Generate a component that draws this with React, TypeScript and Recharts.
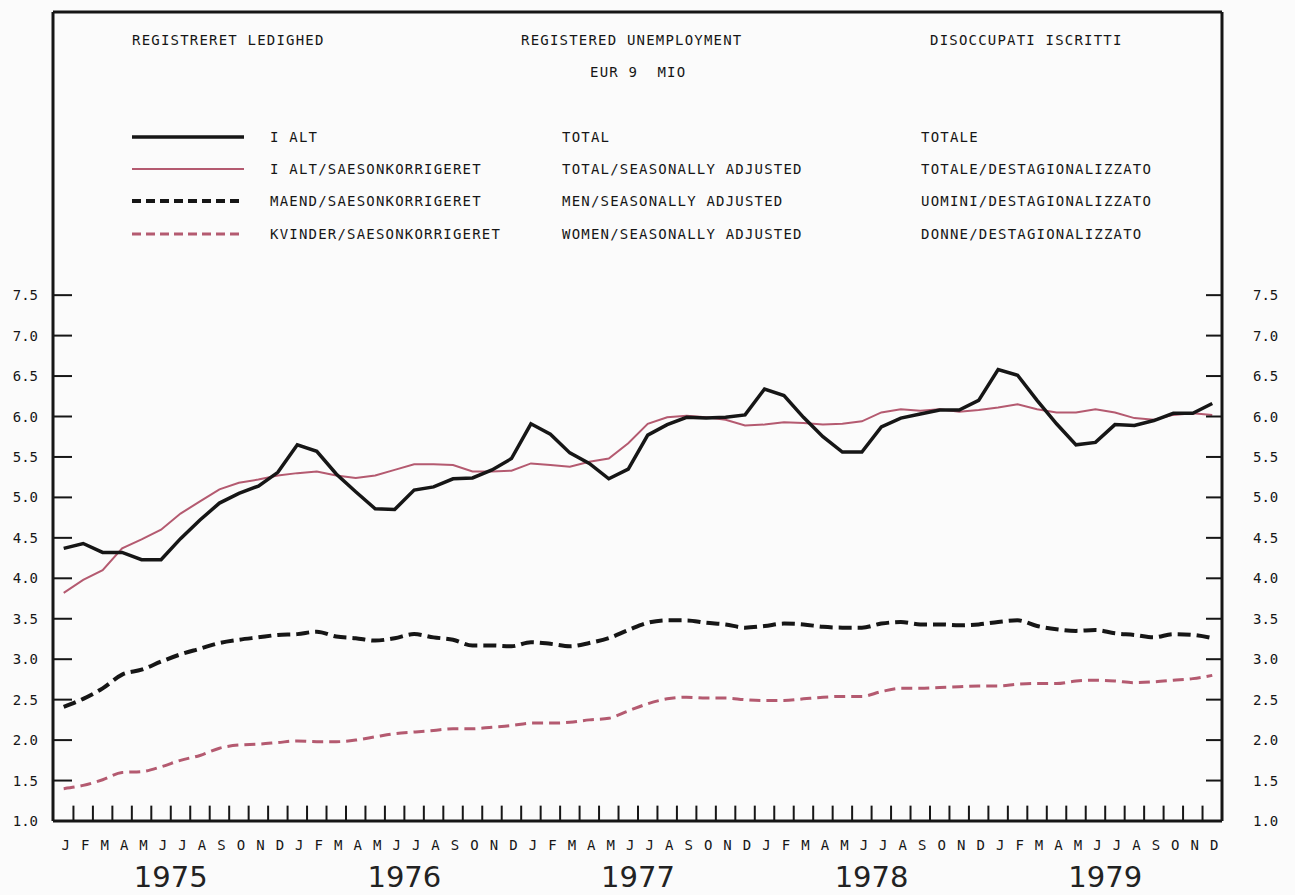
import { LineChart, Line, XAxis, YAxis, Legend, ReferenceLine } from "recharts";

const MONTHS = ["J", "F", "M", "A", "M", "J", "J", "A", "S", "O", "N", "D"];
const YEARS = ["1975", "1976", "1977", "1978", "1979"];
const Y_TICKS = [1.0, 1.5, 2.0, 2.5, 3.0, 3.5, 4.0, 4.5, 5.0, 5.5, 6.0, 6.5, 7.0, 7.5];

// I ALT / TOTAL
const iAlt = [
  4.37, 4.43, 4.32, 4.32, 4.23, 4.23, 4.49, 4.72, 4.93, 5.05, 5.14, 5.31,
  5.65, 5.57, 5.29, 5.07, 4.86, 4.85, 5.09, 5.13, 5.23, 5.24, 5.34, 5.48,
  5.91, 5.78, 5.55, 5.42, 5.23, 5.35, 5.77, 5.9, 5.99, 5.98, 5.99, 6.02,
  6.34, 6.26, 5.99, 5.75, 5.56, 5.56, 5.87, 5.98, 6.03, 6.08, 6.08, 6.2,
  6.58, 6.51, 6.2, 5.91, 5.65, 5.68, 5.9, 5.89, 5.95, 6.04, 6.04, 6.16,
];
// I ALT/SAESONKORRIGERET
const iAltSa = [
  3.82, 3.98, 4.1, 4.37, 4.48, 4.6, 4.8, 4.95, 5.1, 5.18, 5.22, 5.27,
  5.3, 5.32, 5.27, 5.24, 5.27, 5.34, 5.41, 5.41, 5.4, 5.32, 5.32, 5.33,
  5.42, 5.4, 5.38, 5.44, 5.48, 5.67, 5.91, 5.99, 6.01, 5.99, 5.96, 5.89,
  5.9, 5.93, 5.92, 5.9, 5.91, 5.94, 6.05, 6.09, 6.07, 6.09, 6.06, 6.08,
  6.11, 6.15, 6.09, 6.05, 6.05, 6.09, 6.05, 5.98, 5.96, 6.02, 6.04, 6.02,
];
// MAEND/SAESONKORRIGERET
const maend = [
  2.41, 2.51, 2.64, 2.81, 2.87, 2.97, 3.06, 3.13, 3.2, 3.24, 3.27, 3.3,
  3.31, 3.34, 3.28, 3.26, 3.23, 3.26, 3.31, 3.27, 3.24, 3.17, 3.17, 3.16,
  3.21, 3.19, 3.16, 3.2, 3.26, 3.36, 3.45, 3.48, 3.48, 3.45, 3.43, 3.39,
  3.41, 3.44, 3.43, 3.4, 3.39, 3.39, 3.44, 3.46, 3.43, 3.43, 3.42, 3.43,
  3.46, 3.48, 3.41, 3.37, 3.35, 3.36, 3.32, 3.3, 3.27, 3.31, 3.3, 3.26,
];
// KVINDER/SAESONKORRIGERET
const kvinder = [
  1.4, 1.44, 1.51, 1.6, 1.61, 1.67, 1.75, 1.81, 1.9, 1.94, 1.95, 1.97,
  1.99, 1.98, 1.98, 2.0, 2.04, 2.08, 2.1, 2.12, 2.14, 2.14, 2.16, 2.18,
  2.21, 2.21, 2.22, 2.25, 2.27, 2.36, 2.45, 2.51, 2.53, 2.52, 2.52, 2.5,
  2.49, 2.49, 2.51, 2.53, 2.54, 2.54, 2.6, 2.64, 2.64, 2.65, 2.66, 2.67,
  2.67, 2.69, 2.7, 2.7, 2.73, 2.74, 2.73, 2.71, 2.72, 2.74, 2.76, 2.8,
];

const SERIES = [
  { key: "iAlt", da: "I ALT", en: "TOTAL", it: "TOTALE" },
  { key: "iAltSa", da: "I ALT/SAESONKORRIGERET", en: "TOTAL/SEASONALLY ADJUSTED", it: "TOTALE/DESTAGIONALIZZATO" },
  { key: "maend", da: "MAEND/SAESONKORRIGERET", en: "MEN/SEASONALLY ADJUSTED", it: "UOMINI/DESTAGIONALIZZATO" },
  { key: "kvinder", da: "KVINDER/SAESONKORRIGERET", en: "WOMEN/SEASONALLY ADJUSTED", it: "DONNE/DESTAGIONALIZZATO" },
];

const data = iAlt.map((v, i) => ({
  i,
  iAlt: v,
  iAltSa: iAltSa[i],
  maend: maend[i],
  kvinder: kvinder[i],
}));

// month centres get a letter, the half steps between them get a tick mark
const monthTicks = data.map((d) => d.i);
const sepTicks = data.slice(1).map((d) => d.i - 0.5);
const xTicks = [...monthTicks, ...sepTicks].sort((a, b) => a - b);

const INK = "#161616";
const RED = "#b45a70";
const MONO = "'DejaVu Sans Mono', monospace";
const X_DOMAIN = [-0.55, 59.5];
const Y_DOMAIN = [1, 11];
const SEP_LEN = 0.19; // month tick length, in axis units

const BottomTick = (props: any) => {
  const { x, y, payload } = props;
  const v = payload.value;
  if (Number.isInteger(v)) {
    return (
      <text x={x + 2} y={y + 29} textAnchor="middle" fontFamily={MONO} fontSize={14} fill={INK}>
        {MONTHS[v % 12]}
      </text>
    );
  }
  const isYearMid = (v - 5.5) % 12 === 0;
  return isYearMid ? (
    <text x={x} y={y + 66} textAnchor="middle" fontFamily="'DejaVu Sans', sans-serif" fontSize={29} fill="#222">
      {YEARS[Math.floor(v / 12)]}
    </text>
  ) : (
    <g />
  );
};

const LeftTick = (props: any) => {
  const { x, y, payload } = props;
  return (
    <g>
      <line x1={x} y1={y} x2={x + 19} y2={y} stroke={INK} strokeWidth={2} />
      <text x={x - 15} y={y + 5} textAnchor="end" fontFamily={MONO} fontSize={14} fill={INK}>
        {payload.value.toFixed(1)}
      </text>
    </g>
  );
};

const RightTick = (props: any) => {
  const { x, y, payload } = props;
  return (
    <g>
      <line x1={x - 16} y1={y} x2={x} y2={y} stroke={INK} strokeWidth={2} />
      <text x={x + 31} y={y + 5} textAnchor="start" fontFamily={MONO} fontSize={14} fill={INK}>
        {payload.value.toFixed(1)}
      </text>
    </g>
  );
};

const textStyle: React.CSSProperties = {
  position: "absolute",
  fontFamily: MONO,
  fontSize: 14,
  letterSpacing: 1.2,
  color: INK,
  whiteSpace: "pre",
  lineHeight: "16px",
};

const LegendRows = (props: any) => {
  const items = props.payload || [];
  return (
    <div style={{ position: "relative", width: 1295, height: 110 }}>
      {SERIES.map((s, r) => {
        const entry = items.find((p: any) => p.dataKey === s.key);
        const lp = entry?.payload || {};
        const cy = r * 32.2;
        return (
          <div key={s.key}>
            <svg style={{ position: "absolute", left: 132, top: cy - 5 }} width={112} height={10}>
              <line
                x1={0}
                y1={5}
                x2={112}
                y2={5}
                stroke={entry?.color || INK}
                strokeWidth={lp.strokeWidth || 2}
                strokeDasharray={lp.strokeDasharray ? "9 5" : undefined}
              />
            </svg>
            <div style={{ ...textStyle, left: 270, top: cy - 8 }}>{s.da}</div>
            <div style={{ ...textStyle, left: 562, top: cy - 8 }}>{s.en}</div>
            <div style={{ ...textStyle, left: 921, top: cy - 8 }}>{s.it}</div>
          </div>
        );
      })}
    </div>
  );
};

export default function App() {
  return (
    <div style={{ position: "absolute", left: 0, top: 0, width: 1295, height: 895, background: "#fbfbfb" }}>
      <div style={{ ...textStyle, left: 132, top: 32 }}>REGISTRERET LEDIGHED</div>
      <div style={{ ...textStyle, left: 521, top: 32 }}>REGISTERED UNEMPLOYMENT</div>
      <div style={{ ...textStyle, left: 930, top: 32 }}>DISOCCUPATI ISCRITTI</div>
      <div style={{ ...textStyle, left: 590, top: 64 }}>EUR 9  MIO</div>
      <LineChart width={1295} height={895} data={data} margin={{ top: 11, right: 8, bottom: 0, left: 8 }}>
        <XAxis
          xAxisId="top"
          orientation="top"
          type="number"
          dataKey="i"
          domain={X_DOMAIN}
          height={1}
          ticks={[]}
          tickLine={false}
          axisLine={{ stroke: INK, strokeWidth: 3 }}
        />
        <XAxis
          xAxisId="x"
          type="number"
          dataKey="i"
          domain={X_DOMAIN}
          ticks={xTicks}
          interval={0}
          height={74}
          tickSize={0}
          tickMargin={0}
          tickLine={false}
          tick={<BottomTick />}
          axisLine={false}
        />
        <YAxis
          yAxisId="l"
          domain={Y_DOMAIN}
          ticks={Y_TICKS}
          interval={0}
          width={45}
          tickSize={0}
          tickMargin={0}
          tickLine={false}
          tick={<LeftTick />}
          axisLine={{ stroke: INK, strokeWidth: 3 }}
        />
        <YAxis
          yAxisId="r"
          orientation="right"
          domain={Y_DOMAIN}
          ticks={Y_TICKS}
          interval={0}
          width={65}
          tickSize={0}
          tickMargin={0}
          tickLine={false}
          tick={<RightTick />}
          axisLine={{ stroke: INK, strokeWidth: 3 }}
        />
        <ReferenceLine xAxisId="x" yAxisId="l" y={Y_DOMAIN[0]} stroke={INK} strokeWidth={3} />
        {sepTicks.map((t) => (
          <ReferenceLine
            key={t}
            xAxisId="x"
            yAxisId="l"
            segment={[
              { x: t, y: Y_DOMAIN[0] },
              { x: t, y: Y_DOMAIN[0] + SEP_LEN },
            ]}
            stroke={INK}
            strokeWidth={2}
          />
        ))}
        <Legend
          layout="horizontal"
          verticalAlign="middle"
          align="center"
          wrapperStyle={{ top: 137, left: 0, width: 1295 }}
          content={<LegendRows />}
        />
        <Line
          xAxisId="x"
          yAxisId="l"
          dataKey="kvinder"
          name={SERIES[3].da}
          type="monotone"
          stroke={RED}
          strokeWidth={3}
          strokeDasharray="11 6"
          dot={false}
          isAnimationActive={false}
        />
        <Line
          xAxisId="x"
          yAxisId="l"
          dataKey="maend"
          name={SERIES[2].da}
          type="monotone"
          stroke={INK}
          strokeWidth={4}
          strokeDasharray="13 6"
          dot={false}
          isAnimationActive={false}
        />
        <Line
          xAxisId="x"
          yAxisId="l"
          dataKey="iAltSa"
          name={SERIES[1].da}
          type="linear"
          stroke={RED}
          strokeWidth={2}
          dot={false}
          isAnimationActive={false}
        />
        <Line
          xAxisId="x"
          yAxisId="r"
          dataKey="iAlt"
          name={SERIES[0].da}
          type="linear"
          stroke={INK}
          strokeWidth={3.5}
          dot={false}
          isAnimationActive={false}
        />
      </LineChart>
    </div>
  );
}
